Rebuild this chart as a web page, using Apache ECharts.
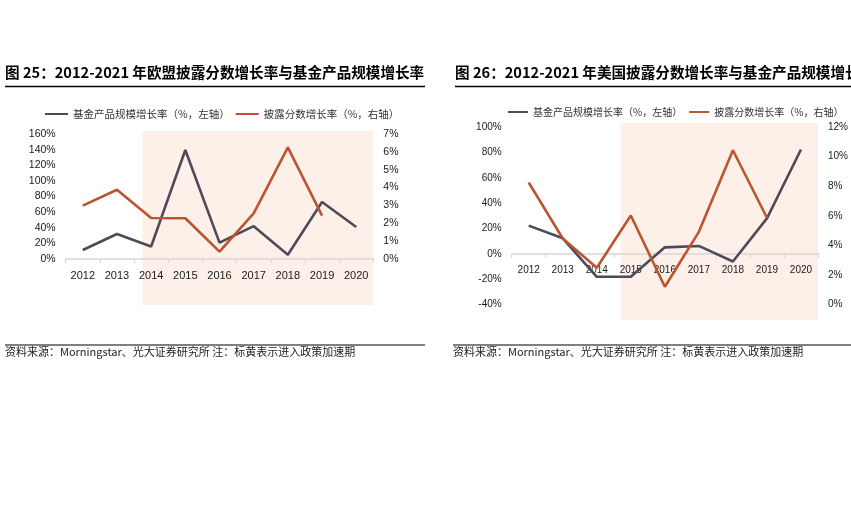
<!DOCTYPE html>
<html>
<head>
<meta charset="utf-8">
<script src="https://cdn.jsdelivr.net/npm/echarts@6/dist/echarts.min.js"></script>
<style>
html,body{margin:0;padding:0;background:#fff;}
#c{width:851px;height:532px;}
</style>
</head>
<body>
<div id="c"></div>
<script>
const years = ['2012','2013','2014','2015','2016','2017','2018','2019','2020'];
const euFund = [11.5, 32, 16, 139.5, 21, 42, 5.5, 73, 41];
const euScore = [2.99, 3.88, 2.3, 2.28, 0.41, 2.56, 6.25, 2.43, null];
const usFund = [22.3, 12.3, -18, -18, 5.2, 6.3, -6, 28, 82.3];
const usScore = [8.25, 4.47, 2.5, 6.02, 1.21, 4.92, 10.43, 5.87, null];
const seriesNames = ['基金产品规模增长率（%，左轴）', '披露分数增长率（%，右轴）'];
const titles = ['图 25：2012-2021 年欧盟披露分数增长率与基金产品规模增长率', '图 26：2012-2021 年美国披露分数增长率与基金产品规模增长率'];
const sourceNote = '资料来源：Morningstar、光大证券研究所 注：标黄表示进入政策加速期';
const euShadeStart = '2014';
const usShadeStart = '2015';

const GRAY = '#4e4a59';
const ORANGE = '#bc5430';
const SHADE = '#fcf0e8';
const AXIS = '#d6d6d6';
const CJK = "'Noto Sans CJK SC', sans-serif";
const LAT = "'Liberation Sans', Arial, sans-serif";

const chart = echarts.init(document.getElementById('c'), null, {renderer: 'canvas'});

function xAx(grid, fs) {
  return {
    type: 'category', gridIndex: grid, data: years, boundaryGap: true, position: 'bottom',
    axisLine: {show: true, onZero: false, lineStyle: {color: AXIS, width: 1.5}},
    axisTick: {show: true, length: 4, lineStyle: {color: AXIS}},
    axisLabel: {color: '#1a1a1a', fontSize: fs, fontFamily: LAT, margin: 11},
    splitLine: {show: false}
  };
}
function yAx(grid, pos, min, max, interval, fs) {
  return {
    type: 'value', gridIndex: grid, position: pos, min: min, max: max, interval: interval,
    axisLine: {show: false}, axisTick: {show: false}, splitLine: {show: false},
    axisLabel: {formatter: '{value}%', color: '#1a1a1a', fontSize: fs, fontFamily: LAT, margin: 10}
  };
}
function line(name, x, y, data, color) {
  return {name: name, type: 'line', xAxisIndex: x, yAxisIndex: y, data: data, symbol: 'none',
    lineStyle: {color: color, width: 2.6}, itemStyle: {color: color}, z: 3, connectNulls: false};
}

const option = {
  animation: false,
  backgroundColor: '#fff',
  grid: [
    {left: 65.7, right: 851 - 373.3, top: 134, bottom: 532 - 259},
    {left: 511.7, right: 851 - 821.7, top: 127, bottom: 532 - 304.7}
  ],
  xAxis: [xAx(0, 11), xAx(1, 10)],
  yAxis: [
    yAx(0, 'left', 0, 160, 20, 10.5),
    yAx(0, 'right', 0, 7, 1, 10.5),
    yAx(1, 'left', -40, 100, 20, 10),
    yAx(1, 'right', 0, 12, 2, 10)
  ],
  legend: [
    {left: 40, top: 102, width: 500, itemWidth: 23, itemHeight: 2, itemGap: 6, icon: 'rect',
     data: seriesNames, textStyle: {fontFamily: CJK, fontSize: 10.5, color: '#333', lineHeight: 14}},
    {left: 503, top: 100, width: 500, itemWidth: 20, itemHeight: 2, itemGap: 7, icon: 'rect',
     data: seriesNames, textStyle: {fontFamily: CJK, fontSize: 10, color: '#333', lineHeight: 14}}
  ],
  series: [
    line(seriesNames[0], 0, 0, euFund, GRAY),
    line(seriesNames[1], 0, 1, euScore, ORANGE),
    line(seriesNames[0], 1, 2, usFund, GRAY),
    line(seriesNames[1], 1, 3, usScore, ORANGE)
  ],
  graphic: [
    {type: 'text', left: 5, top: 65, style: {text: titles[0], font: "bold 14.6px " + CJK, fill: '#000'}},
    {type: 'text', left: 455, top: 65, style: {text: titles[1], font: "bold 14.6px " + CJK, fill: '#000'}},
    {type: 'line', shape: {x1: 5, y1: 86.5, x2: 425, y2: 86.5}, style: {stroke: '#000', lineWidth: 1.3}},
    {type: 'line', shape: {x1: 455, y1: 86.5, x2: 851, y2: 86.5}, style: {stroke: '#000', lineWidth: 1.3}},
    {type: 'line', shape: {x1: 5, y1: 345, x2: 425, y2: 345}, style: {stroke: '#000', lineWidth: 1}},
    {type: 'line', shape: {x1: 453, y1: 345, x2: 851, y2: 345}, style: {stroke: '#000', lineWidth: 1}},
    {type: 'text', left: 5, top: 346, style: {text: sourceNote, font: "11px " + CJK, fill: '#222'}},
    {type: 'text', left: 453, top: 346, style: {text: sourceNote, font: "11px " + CJK, fill: '#222'}}
  ]
};
chart.setOption(option);

// move the US category axis up to the zero line of its left value axis
const usZero = chart.convertToPixel({yAxisIndex: 2}, 0);
const usBottom = chart.convertToPixel({yAxisIndex: 2}, option.yAxis[2].min);
chart.setOption({xAxis: [{}, {offset: -(usBottom - usZero)}]});

function shadeRect(id, xi, yi, startCat, frac, topPad, bottomY) {
  const c0 = chart.convertToPixel({xAxisIndex: xi}, years[0]);
  const cN = chart.convertToPixel({xAxisIndex: xi}, years[years.length - 1]);
  const band = (cN - c0) / (years.length - 1);
  const cs = chart.convertToPixel({xAxisIndex: xi}, startCat);
  const x1 = cs - frac * band;
  const x2 = cN + 0.5 * band;
  const yTop = chart.convertToPixel({yAxisIndex: yi}, option.yAxis[yi].max) - topPad;
  return {id: id, type: 'rect', z: -10, silent: true,
    shape: {x: x1, y: yTop, width: x2 - x1, height: bottomY - yTop},
    style: {fill: SHADE}};
}
const g = option.graphic.slice();
g.push(shadeRect('s1', 0, 0, euShadeStart, 0.26, 3, 305));
g.push(shadeRect('s2', 1, 2, usShadeStart, 0.3, 4, 320));
chart.setOption({graphic: g}, {replaceMerge: ['graphic']});
</script>
</body>
</html>
